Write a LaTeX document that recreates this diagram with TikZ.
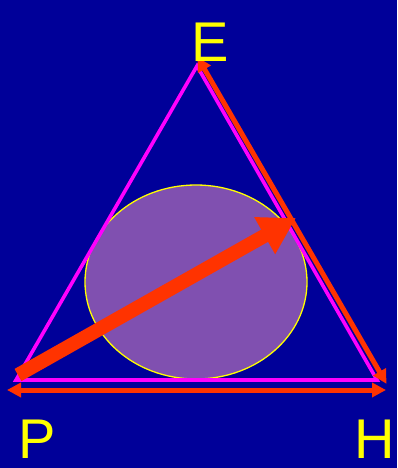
\documentclass[tikz,border=0pt]{standalone}
\usepackage{fontspec}
\setsansfont{Liberation Sans}
\usetikzlibrary{arrows.meta,positioning}
\definecolor{bgblue}{HTML}{000099}
\definecolor{edgemag}{HTML}{FF00FF}
\definecolor{arrred}{HTML}{FF3300}
\definecolor{labyel}{HTML}{FFFF00}
\definecolor{blobfill}{HTML}{8050B0}

\begin{document}
\begin{tikzpicture}[
    x=1pt,
    y=-1pt,
    corner/.style={font=\sffamily\fontsize{56}{56}\selectfont,text=labyel,inner sep=0pt},
    edge/.style={draw=edgemag,line width=3.6pt,line join=miter},
    blob/.style={draw=labyel,line width=1.3pt,fill=blobfill},
    sidearrow/.style={{Triangle[length=14pt,width=14pt]}-{Triangle[length=14pt,width=14pt]},draw=arrred,line width=5pt,shorten <=-1pt,shorten >=-1pt},
    bigarrow/.style={-{Triangle[length=36pt,width=40pt]},draw=arrred,line width=14pt}
  ]
    \fill[bgblue] (0,0) rectangle (397,468);
    \useasboundingbox (0,0) rectangle (397,468);

    \coordinate (top) at (197,66);
    \coordinate (left) at (16,380);
    \coordinate (right) at (377,380);

    \draw[blob] (196,282) ellipse [x radius=111,y radius=97];
    \draw[edge] (top) -- (left) -- (right) -- cycle;

    \coordinate (etip) at (198,58);
    \coordinate (htip) at (386,383);
    \coordinate (pend) at (8,390);
    \coordinate (hend) at (385,390);
    \coordinate (pstart) at (18,375);
    \coordinate (bulge) at (296,218);

    \draw[sidearrow] (etip) -- (htip);
    \draw[sidearrow] (pend) -- (hend);
    \draw[bigarrow] (pstart) -- (bulge);

    \node[corner] (E) at (210,42) {E};
    \node[corner] (P) at (37,439) {P};
    \node[corner] (H) at (375,439) {H};
\end{tikzpicture}
\end{document}
